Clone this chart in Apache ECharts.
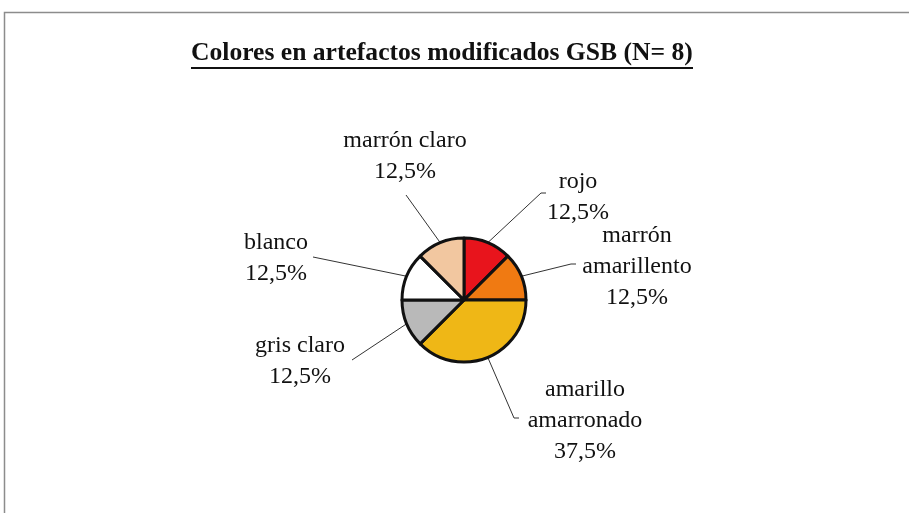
<!DOCTYPE html>
<html>
<head>
<meta charset="utf-8">
<title>Colores en artefactos modificados GSB</title>
<script src="https://cdn.jsdelivr.net/npm/echarts@6/dist/echarts.min.js"></script>
<style>
  html, body { margin: 0; padding: 0; background: #fff; }
  #chart { width: 909px; height: 513px; }
</style>
</head>
<body>
<div id="chart"></div>
<script>
// datos: N = 8 artefactos
const categories = ['rojo', 'marrón amarillento', 'amarillo amarronado', 'gris claro', 'blanco', 'marrón claro'];
const labelNames = ['rojo', 'marrón\namarillento', 'amarillo\namarronado', 'gris claro', 'blanco', 'marrón claro'];
const counts = [1, 1, 3, 1, 1, 1];

// estilo y posición de etiquetas
const sliceColors = ['#e8141c', '#f07a12', '#efb716', '#b9b9b9', '#ffffff', '#f2c7a0'];
const labelPos = [[578, 197], [637, 267], [585, 421], [300, 361], [276, 258], [405, 156]];
// extremo de la línea guía del lado de la etiqueta: [codo, final]
const guideEnds = [
  [[541, 193], [546, 193]],
  [[571, 264], [576, 264]],
  [[514, 418], [519, 418]],
  [[352, 360], [352, 360]],
  [[313, 257], [313, 257]],
  [[406, 195], [406, 195]]
];
const serif = '"Liberation Serif", "Times New Roman", serif';

const chart = echarts.init(document.getElementById('chart'));

const option = {
  backgroundColor: '#fff',
  animation: false,
  title: {
    text: 'Colores en artefactos modificados GSB (N= 8)',
    left: 186,
    top: 35,
    textStyle: { fontFamily: serif, fontSize: 25.6, fontWeight: 'bold', color: '#111' }
  },
  graphic: [
    {
      type: 'rect',
      shape: { x: 4.5, y: 12.5, width: 1000, height: 600 },
      style: { fill: 'none', stroke: '#8c8c8c', lineWidth: 1.5 },
      silent: true
    },
    {
      // subrayado del título
      type: 'line',
      shape: { x1: 191, y1: 68, x2: 693, y2: 68 },
      style: { stroke: '#111', lineWidth: 2.2 },
      silent: true
    }
  ],
  series: [
    {
      type: 'pie',
      center: [464, 300],
      radius: 62,
      startAngle: 90,
      clockwise: true,
      data: categories.map((name, i) => ({
        name: name,
        value: counts[i],
        itemStyle: { color: sliceColors[i] }
      })),
      itemStyle: { borderColor: '#111', borderWidth: 3 },
      label: {
        show: true,
        position: 'outside',
        fontFamily: serif,
        fontSize: 24,
        lineHeight: 31,
        color: '#111',
        align: 'center',
        formatter: p => labelNames[p.dataIndex] + '\n' + p.percent.toFixed(1).replace('.', ',') + '%'
      },
      labelLine: {
        show: true,
        lineStyle: { color: '#333', width: 1 }
      },
      labelLayout: params => {
        const i = params.dataIndex;
        const start = params.labelLinePoints ? params.labelLinePoints[0] : null;
        const out = {
          x: labelPos[i][0],
          y: labelPos[i][1],
          align: 'center',
          verticalAlign: 'middle'
        };
        if (start) {
          out.labelLinePoints = [start, guideEnds[i][0], guideEnds[i][1]];
        }
        return out;
      }
    }
  ]
};

chart.setOption(option);
window.addEventListener('resize', () => chart.resize());
</script>
</body>
</html>
